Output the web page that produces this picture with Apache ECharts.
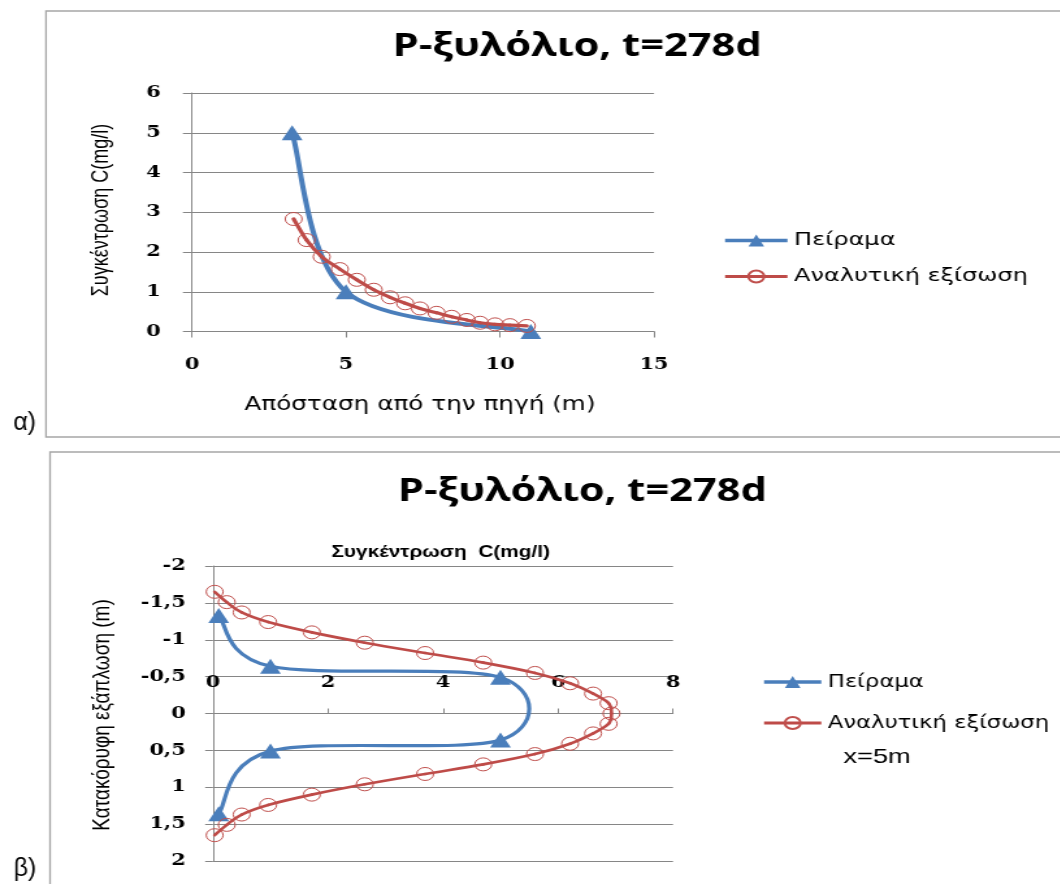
<!DOCTYPE html>
<html>
<head>
<meta charset="utf-8">
<script src="https://cdn.jsdelivr.net/npm/echarts@6/dist/echarts.min.js"></script>
<style>
  html, body { margin: 0; padding: 0; background: #fff; overflow: hidden; }
  /* the two embedded chart panels are laid out narrow and widened horizontally */
  #chart { width: 815px; height: 884px; transform: scaleX(1.3); transform-origin: 0 0; }
</style>
</head>
<body>
<div id="chart"></div>
<script>
// Panel α: concentration against distance from the source
const expDistA = [3.25, 5, 11];
const expConcA = [5, 1, 0];
const anaDistA = [3.3, 3.72, 4.21, 4.8, 5.35, 5.9, 6.43, 6.92, 7.4, 7.94, 8.43, 8.92, 9.35, 9.84, 10.32, 10.87];
const anaConcA = [2.83, 2.30, 1.88, 1.57, 1.30, 1.05, 0.86, 0.71, 0.58, 0.47, 0.37, 0.29, 0.22, 0.18, 0.16, 0.14];

// Panel β: vertical profile of concentration at x = 5 m
const expConcB = [0.1, 1, 5, 5, 1, 0.1];
const expDepthB = [-1.33, -0.64, -0.49, 0.36, 0.51, 1.36];
const anaConcB = [0.03, 0.24, 0.50, 0.96, 1.72, 2.64, 3.69, 4.70, 5.60, 6.21, 6.61, 6.88, 6.93,
                  6.88, 6.61, 6.21, 5.60, 4.70, 3.69, 2.64, 1.72, 0.96, 0.50, 0.24, 0.03];
const anaDepthB = [-1.65, -1.51, -1.37, -1.24, -1.10, -0.96, -0.82, -0.69, -0.55, -0.41, -0.27, -0.14, 0,
                   0.14, 0.27, 0.41, 0.55, 0.69, 0.82, 0.96, 1.10, 1.24, 1.37, 1.51, 1.65];

const seriesNames = ['Πείραμα', 'Αναλυτική εξίσωση'];
const titleText = 'P-ξυλόλιο, t=278d';

const zip = (xs, ys) => xs.map((x, i) => [x, ys[i]]);

const BLUE = '#4A7EBB';
const RED = '#BE4B48';
const AXIS = '#868686';
const tickFont = { fontFamily: 'DejaVu Serif', fontWeight: 'bold', fontSize: 16, color: '#000' };
const axisLine = { show: true, lineStyle: { color: AXIS, width: 1 } };
const tick = len => ({ show: true, length: len, lineStyle: { color: AXIS, width: 1 } });
const grid = { show: true, lineStyle: { color: AXIS, width: 1 } };

// Smoothed connecting line: cubic Bezier segments whose control points follow the
// neighbouring points (Catmull-Rom, tension 1/6), computed in screen space.
function smoothCurve(xs, ys, color, width, xi, yi) {
  const n = xs.length;
  return {
    type: 'custom', xAxisIndex: xi, yAxisIndex: yi, silent: true, clip: false,
    data: zip(xs, ys), encode: { x: 0, y: 1 },
    renderItem: (params, api) => {
      const i = params.dataIndex;
      if (i >= n - 1) return null;
      const p = j => { const k = Math.max(0, Math.min(n - 1, j)); return api.coord([xs[k], ys[k]]); };
      const p0 = p(i - 1), p1 = p(i), p2 = p(i + 1), p3 = p(i + 2);
      const t = 1 / 6;
      return {
        type: 'bezierCurve',
        shape: {
          x1: p1[0], y1: p1[1], x2: p2[0], y2: p2[1],
          cpx1: p1[0] + (p2[0] - p0[0]) * t, cpy1: p1[1] + (p2[1] - p0[1]) * t,
          cpx2: p2[0] - (p3[0] - p1[0]) * t, cpy2: p2[1] - (p3[1] - p1[1]) * t
        },
        style: { stroke: color, lineWidth: width, fill: 'none', lineCap: 'round' }
      };
    }
  };
}

// Markers of each series (their own connecting line is hidden; the curve above draws it)
function markers(name, xs, ys, xi, yi, kind) {
  const tri = kind === 'tri';
  return {
    name, type: 'line', xAxisIndex: xi, yAxisIndex: yi,
    data: zip(xs, ys),
    symbol: tri ? 'triangle' : 'circle',
    symbolSize: tri ? [16, 15] : 13,
    lineStyle: { width: 0, color: tri ? BLUE : RED },
    itemStyle: tri ? { color: BLUE }
                   : { color: 'rgba(255,255,255,0)', borderColor: '#C0504D', borderWidth: 1 }
  };
}

const legendData = [
  { name: seriesNames[0], lineStyle: { color: BLUE, width: 3.5 } },
  { name: seriesNames[1], lineStyle: { color: RED, width: 3 } }
];

const chart = echarts.init(document.getElementById('chart'));

chart.setOption({
  animation: false,
  backgroundColor: '#fff',
  grid: [
    { left: 147.7, top: 93, width: 355.4, height: 238.5, containLabel: false, outerBoundsMode: 'none' },
    { left: 163.8, top: 566, width: 353.9, height: 295, containLabel: false, outerBoundsMode: 'none' }
  ],
  xAxis: [
    {
      gridIndex: 0, type: 'value', min: 0, max: 15, interval: 5,
      axisLine: { ...axisLine, onZero: false }, axisTick: tick(6),
      axisLabel: { ...tickFont, margin: 25 }, splitLine: { show: false }
    },
    {
      // concentration axis crosses the depth axis at depth 0 (middle of the plot)
      gridIndex: 1, type: 'value', position: 'top', offset: -147.5, min: 0, max: 8, interval: 2,
      axisLine: { ...axisLine, onZero: false }, axisTick: tick(5),
      axisLabel: { ...tickFont, margin: 23 }, splitLine: { show: false }
    }
  ],
  yAxis: [
    {
      gridIndex: 0, type: 'value', min: 0, max: 6, interval: 1,
      axisLine: { ...axisLine, onZero: false }, axisTick: tick(7),
      axisLabel: { ...tickFont, margin: 24 }, splitLine: grid
    },
    {
      gridIndex: 1, type: 'value', inverse: true, min: -2, max: 2, interval: 0.5,
      axisLine: { ...axisLine, onZero: false }, axisTick: tick(6),
      axisLabel: { ...tickFont, margin: 21, formatter: v => String(v).replace('.', ',') },
      splitLine: grid
    }
  ],
  legend: [
    {
      data: legendData, orient: 'vertical', left: 551, top: 226,
      itemWidth: 48, itemHeight: 15, itemGap: 17,
      textStyle: { fontFamily: 'DejaVu Sans', fontSize: 18.5, color: '#000' }
    },
    {
      data: legendData, orient: 'vertical', left: 581, top: 668,
      itemWidth: 44, itemHeight: 15, itemGap: 23,
      textStyle: { fontFamily: 'DejaVu Sans', fontSize: 17.5, color: '#000' }
    }
  ],
  series: [
    smoothCurve(expDistA, expConcA, BLUE, 4, 0, 0),
    smoothCurve(anaDistA, anaConcA, RED, 3.2, 0, 0),
    smoothCurve(expConcB, expDepthB, BLUE, 3.2, 1, 1),
    smoothCurve(anaConcB, anaDepthB, RED, 2.6, 1, 1),
    markers(seriesNames[0], expDistA, expConcA, 0, 0, 'tri'),
    markers(seriesNames[1], anaDistA, anaConcA, 0, 0, 'circ'),
    markers(seriesNames[0], expConcB, expDepthB, 1, 1, 'tri'),
    markers(seriesNames[1], anaConcB, anaDepthB, 1, 1, 'circ')
  ],
  graphic: [
    // panel frames
    { type: 'rect', silent: true, z: -1, shape: { x: 35.4, y: 11, width: 800, height: 426 },
      style: { fill: 'none', stroke: '#A6A6A6', lineWidth: 1.3 } },
    { type: 'rect', silent: true, z: -1, shape: { x: 38.5, y: 452, width: 800, height: 440 },
      style: { fill: 'none', stroke: '#A6A6A6', lineWidth: 1.3 } },
    // titles
    { type: 'text', x: 444, y: 47,
      style: { text: titleText, font: 'bold 32px "Open Sans"', fill: '#000', align: 'center', verticalAlign: 'middle' } },
    { type: 'text', x: 448, y: 492,
      style: { text: titleText, font: 'bold 32px "Open Sans"', fill: '#000', align: 'center', verticalAlign: 'middle' } },
    // axis names, panel α
    { type: 'text', x: 77.7, y: 210, rotation: Math.PI / 2,
      style: { text: 'Συγκέντρωση C(mg/l)', font: '18px "Liberation Sans"', fill: '#000', align: 'center', verticalAlign: 'middle' } },
    { type: 'text', x: 323, y: 405,
      style: { text: 'Απόσταση από την πηγή (m)', font: '19px "DejaVu Sans"', fill: '#000', align: 'center', verticalAlign: 'middle' } },
    // axis names, panel β
    { type: 'text', x: 79, y: 715, rotation: Math.PI / 2,
      style: { text: 'Κατακόρυφη εξάπλωση (m)', font: '19px "Liberation Sans"', fill: '#000', align: 'center', verticalAlign: 'middle' } },
    { type: 'text', x: 339, y: 553,
      style: { text: 'Συγκέντρωση  C(mg/l)', font: 'bold 16px "Liberation Sans"', fill: '#000', align: 'center', verticalAlign: 'middle' } },
    { type: 'text', x: 674.6, y: 757,
      style: { text: 'x=5m', font: '21px "Liberation Sans"', fill: '#000', align: 'center', verticalAlign: 'middle' } },
    // panel letters
    { type: 'text', x: 19, y: 423, scaleX: 1 / 1.3,
      style: { text: 'α)', font: '25px "Liberation Sans"', fill: '#000', align: 'center', verticalAlign: 'middle' } },
    { type: 'text', x: 19.2, y: 869, scaleX: 1 / 1.3,
      style: { text: 'β)', font: '25px "Liberation Sans"', fill: '#000', align: 'center', verticalAlign: 'middle' } }
  ]
});
</script>
</body>
</html>
